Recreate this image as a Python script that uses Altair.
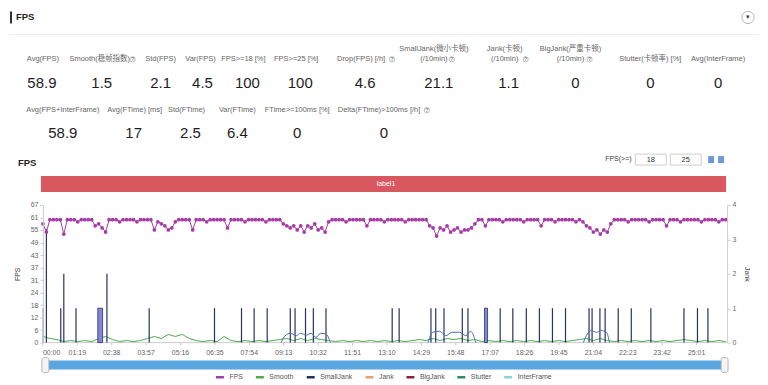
import json
import altair as alt
import pandas as pd

FONT = "Liberation Sans, Noto Sans CJK SC, sans-serif"

# ---------------- data ----------------
SERIES = ["FPS", "Smooth", "SmallJank", "Jank", "BigJank", "Stutter", "InterFrame"]
SERIES_COLORS = ["#a63ca6", "#4caa4c", "#263162", "#e9a46c", "#8c2343", "#2f8a72", "#86d6d6"]

STAT_LABELS_1 = ["Avg(FPS)", "Smooth(稳帧指数)", "Std(FPS)", "Var(FPS)", "FPS>=18 [%]", "FPS>=25 [%]",
                 "Drop(FPS) [/h]", "SmallJank(微小卡顿)", "Jank(卡顿)", "BigJank(严重卡顿)",
                 "Stutter(卡顿率) [%]", "Avg(InterFrame)"]
STAT_SUB_1 = ["", "", "", "", "", "", "", "(/10min)", "(/10min)", "(/10min)", "", ""]
STAT_VALUES_1 = ["58.9", "1.5", "2.1", "4.5", "100", "100", "4.6", "21.1", "1.1", "0", "0", "0"]
STAT_LABELS_2 = ["Avg(FPS+InterFrame)", "Avg(FTime) [ms]", "Std(FTime)", "Var(FTime)",
                 "FTime>=100ms [%]", "Delta(FTime)>100ms [/h]"]
STAT_VALUES_2 = ["58.9", "17", "2.5", "6.4", "0", "0"]

TIME_LABELS = ["00:00", "01:19", "02:38", "03:57", "05:16", "06:35", "07:54", "09:13", "10:32", "11:51",
               "13:10", "14:29", "15:48", "17:07", "18:26", "19:45", "21:04", "22:23", "23:42", "25:01"]
TIME_TICK_STEP = 79   # seconds
TIME_END = 1571       # seconds

FPS_TICK_LABELS = ["0", "6", "12", "18", "24", "31", "37", "43", "49", "55", "61", "67"]
FPS_MAX = 67.2
JANK_TICKS = [0, 1, 2, 3, 4]
JANK_MAX = 4

FPS_STEP = 8  # seconds between FPS samples
FPS = [58, 54, 60, 60, 60, 60, 53, 60, 60, 60, 59, 60, 60, 60, 60,
       57, 58, 56, 54,
       60, 60, 60, 59, 60, 60, 60, 60, 59, 60, 60, 60, 60,
       55, 59, 58, 57, 55, 56, 59, 60, 60, 60, 60, 55,
       60, 60, 60, 59, 60, 60, 60, 60, 60, 56,
       60, 60, 60, 60, 59, 60, 60, 60, 60, 60, 59, 60, 60, 60, 60,
       58, 57, 56, 57, 55, 57, 54, 57, 56, 58, 55, 56, 54,
       59, 60, 60, 60, 60, 59, 60, 60, 60, 60, 60, 57,
       60, 60, 60, 60, 59, 60, 60, 60, 60, 60, 59, 60, 60, 60, 60, 60, 60,
       57, 56, 52, 56, 55, 57, 54, 55, 56, 54, 55, 55, 56, 58,
       60, 60, 57,
       60, 60, 60, 60, 59, 60, 60, 60, 60, 60, 59, 60, 60, 60, 60, 57,
       60, 60, 60, 59, 60, 60, 60, 60, 60, 59, 60,
       59, 57, 56, 54, 55, 53, 55, 54,
       58, 60, 60, 60, 60, 59, 60, 60, 60, 60, 60, 59, 60, 60, 60, 60, 57,
       60, 60, 60, 59, 60, 60, 60, 60, 60, 59, 60, 60, 60, 60, 59, 60, 60]

SMOOTH_STEP = 16
SMOOTH = [3, 2, 1.5, 0.5, 1, 0.5, 1, 0.5, 2, 3, 1.5, 0.5, 1, 0.5, 1, 2, 3, 2, 4, 3,
          4, 2, 1, 0.5, 1, 0.5, 3, 1, 0.5, 1, 0.5, 1, 0.5, 1, 1.5, 2, 1, 2, 1, 2,
          1.5, 1, 0.5, 1, 0.5, 1, 0.5, 1, 0.5, 1, 0.5, 1, 0.5, 1, 1.5, 1, 2, 1, 2, 1.5,
          2, 1, 1.5, 0.5, 1, 0.5, 1, 0.5, 1, 0.5, 1, 0.5, 1, 0.5, 1, 0.5, 1, 1.5, 2, 1,
          2, 1, 0.5, 1, 0.5, 1, 0.5, 1, 0.5, 1, 0.5, 1, 1.5, 1, 0.5, 1, 0.5, 1, 0.5]

SMALLJANK_T = [1, 8, 41, 48, 76, 147, 244, 394, 456, 485, 515, 568, 579, 603, 621, 650,
               802, 818, 891, 902, 921, 963, 976, 1050, 1079, 1110, 1140, 1170, 1200,
               1254, 1261, 1279, 1291, 1321, 1351, 1396, 1472, 1503, 1527]
SMALLJANK_V = [1, 3.3, 1, 2, 1, 2, 1, 1, 1, 1, 1, 1, 1, 1, 1, 1,
               1, 1, 1, 1, 1, 1, 1, 1, 1, 1, 1, 1, 1,
               1, 1, 1, 1, 1, 1, 1, 1, 1, 1]
SMALLJANK_BLOCK_T0 = [126, 1014]
SMALLJANK_BLOCK_T1 = [137, 1021]
SMALLJANK_BLOCK_V = [1, 1]

ARC_GROUP = ["a"] * 11 + ["b"] * 9 + ["c"] * 7
ARC_T = [547, 556, 568, 582, 591, 605, 616, 627, 637, 650, 660,
         884, 895, 911, 925, 939, 957, 971, 982, 994,
         1241, 1250, 1259, 1271, 1282, 1294, 1301]
ARC_V = [0, 0.2, 0.27, 0.2, 0.27, 0.22, 0.27, 0.15, 0.27, 0.25, 0,
         0, 0.3, 0.33, 0.2, 0.3, 0.3, 0.2, 0.33, 0,
         0, 0.25, 0.35, 0.3, 0.35, 0.3, 0]

# ---------------- layout (pixels relative to plot origin) ----------------
PLOT_W, PLOT_H = 686, 138
L1_X = [0, 57, 118, 158, 201, 254, 319, 392, 463, 529, 609, 677]
V1_X = [-1, 59, 118, 160, 205, 258, 323, 397, 467, 534, 609, 677]
L2_X = [20, 92, 144, 195, 255, 337]
V2_X = [20, 91, 148, 195, 255, 342]
Y_L1, Y_L1_TOP, Y_V1, Y_L2, Y_V2 = -146, -156, -122, -95, -72
ICONS_X = [90, 350, 410, 484, 548, 385]
ICONS_Y = [-146, -146, -146, -146, -146, -95]


def px(f):
    return alt.X(f"{f}:Q", scale=None, axis=None)


def py(f):
    return alt.Y(f"{f}:Q", scale=None, axis=None)


def one(**kw):
    return pd.DataFrame({k: [v] for k, v in kw.items()})


def texts(xs, ys, ts):
    return pd.DataFrame({"x": xs, "y": ys, "text": ts})


# background sets the outer extent
bg = alt.Chart(one(x=-34, x2=718, y=-195, y2=164)).mark_rect(fill="white").encode(
    x=px("x"), x2="x2:Q", y=py("y"), y2="y2:Q")

sep = alt.Chart(one(x=-34, x2=718, y=-171)).mark_rule(color="#ececec", strokeWidth=1).encode(
    x=px("x"), x2="x2:Q", y=py("y"))

head_bar = alt.Chart(one(x=-33, x2=-31, y=-194, y2=-182)).mark_rect(fill="#333").encode(
    x=px("x"), x2="x2:Q", y=py("y"), y2="y2:Q")
head_txt = alt.Chart(texts([-27], [-188], ["FPS"])).mark_text(
    align="left", baseline="middle", fontSize=9.5, fontWeight="bold", color="#222").encode(
    x=px("x"), y=py("y"), text="text:N")
drop_circle = alt.Chart(one(x=707, y=-188)).mark_point(
    shape="circle", size=150, filled=True, fill="white", stroke="#9a9a9a", strokeWidth=1).encode(
    x=px("x"), y=py("y"))
drop_arrow = alt.Chart(texts([707], [-188], ["▾"])).mark_text(fontSize=7, color="#444").encode(
    x=px("x"), y=py("y"), text="text:N")

lab1_y = [Y_L1_TOP if s else Y_L1 for s in STAT_SUB_1]
lab1 = alt.Chart(texts(L1_X, lab1_y, STAT_LABELS_1)).mark_text(
    fontSize=7.5, color="#666", baseline="middle").encode(x=px("x"), y=py("y"), text="text:N")
sub_x = [x for x, s in zip(L1_X, STAT_SUB_1) if s]
sub_t = [s for s in STAT_SUB_1 if s]
sub1 = alt.Chart(texts(sub_x, [Y_L1] * len(sub_x), sub_t)).mark_text(
    fontSize=7.5, color="#666", baseline="middle").encode(x=px("x"), y=py("y"), text="text:N")
val1 = alt.Chart(texts(V1_X, [Y_V1] * len(V1_X), STAT_VALUES_1)).mark_text(
    fontSize=15, color="#1e1e1e", baseline="middle").encode(x=px("x"), y=py("y"), text="text:N")
lab2 = alt.Chart(texts(L2_X, [Y_L2] * len(L2_X), STAT_LABELS_2)).mark_text(
    fontSize=7.5, color="#666", baseline="middle").encode(x=px("x"), y=py("y"), text="text:N")
val2 = alt.Chart(texts(V2_X, [Y_V2] * len(V2_X), STAT_VALUES_2)).mark_text(
    fontSize=15, color="#1e1e1e", baseline="middle").encode(x=px("x"), y=py("y"), text="text:N")
icon_c = alt.Chart(pd.DataFrame({"x": ICONS_X, "y": ICONS_Y})).mark_point(
    shape="circle", size=28, stroke="#888", strokeWidth=0.8, filled=False).encode(x=px("x"), y=py("y"))
icon_t = alt.Chart(texts(ICONS_X, ICONS_Y, ["?"] * len(ICONS_X))).mark_text(
    fontSize=5, color="#777", fontWeight="bold").encode(x=px("x"), y=py("y"), text="text:N")

sec_title = alt.Chart(texts([-25], [-42], ["FPS"])).mark_text(
    align="left", baseline="middle", fontSize=9.5, fontWeight="bold", color="#222").encode(
    x=px("x"), y=py("y"), text="text:N")
fps_ge = alt.Chart(texts([577], [-46], ["FPS(>=)"])).mark_text(
    fontSize=7, color="#444", baseline="middle").encode(x=px("x"), y=py("y"), text="text:N")
boxes = alt.Chart(pd.DataFrame({"x": [594, 629], "x2": [625, 660], "y": [-51, -51], "y2": [-40, -40]})).mark_rect(
    fill="white", stroke="#cfcfcf", strokeWidth=1).encode(x=px("x"), x2="x2:Q", y=py("y"), y2="y2:Q")
box_t = alt.Chart(texts([609.5, 644.5], [-45.5, -45.5], ["18", "25"])).mark_text(
    fontSize=7.5, color="#333", baseline="middle").encode(x=px("x"), y=py("y"), text="text:N")
icons2 = alt.Chart(pd.DataFrame({"x": [667, 677], "x2": [673, 683], "y": [-49, -49], "y2": [-42, -42]})).mark_rect(
    fill="#6f97d8").encode(x=px("x"), x2="x2:Q", y=py("y"), y2="y2:Q")

red_bar = alt.Chart(one(x=-2, x2=685, y=-29, y2=-13)).mark_rect(fill="#d9575f").encode(
    x=px("x"), x2="x2:Q", y=py("y"), y2="y2:Q")
red_txt = alt.Chart(texts([344], [-21], ["label1"])).mark_text(
    fontSize=7, color="white", baseline="middle").encode(x=px("x"), y=py("y"), text="text:N")

slider = alt.Chart(one(x=0, x2=PLOT_W, y=156, y2=165)).mark_rect(fill="#5aa6e0").encode(
    x=px("x"), x2="x2:Q", y=py("y"), y2="y2:Q")
handles = alt.Chart(pd.DataFrame({"x": [-1, PLOT_W - 6], "x2": [6, PLOT_W + 1], "y": [153, 153], "y2": [168, 168]})).mark_rect(
    fill="#f4f4f4", stroke="#a8a8a8", strokeWidth=0.8, cornerRadius=2).encode(
    x=px("x"), x2="x2:Q", y=py("y"), y2="y2:Q")

# ---------------- chart layers ----------------
color_scale = alt.Scale(domain=SERIES, range=SERIES_COLORS)
legend_def = alt.Legend(orient="none", legendX=172, legendY=167, direction="horizontal", title=None,
                        symbolType="stroke", symbolStrokeWidth=2.5, symbolSize=64, labelFontSize=7,
                        labelColor="#555", labelFont=FONT, columnPadding=7, labelOffset=4)

x_scale = alt.Scale(domain=[0, TIME_END], nice=False, zero=False)
fps_expr = f"{json.dumps(FPS_TICK_LABELS)}[round(datum.value * 11 / {FPS_MAX})]"

fps_df = pd.DataFrame({"t": [i * FPS_STEP for i in range(len(FPS))], "v": FPS, "s": "FPS"})
smooth_df = pd.DataFrame({"t": [i * SMOOTH_STEP for i in range(len(SMOOTH))], "v": SMOOTH, "s": "Smooth"})
sj_df = pd.DataFrame({"t": SMALLJANK_T, "v": SMALLJANK_V, "s": "SmallJank"})
blk_df = pd.DataFrame({"t0": SMALLJANK_BLOCK_T0, "t1": SMALLJANK_BLOCK_T1, "v": SMALLJANK_BLOCK_V})
arc_df = pd.DataFrame({"g": ARC_GROUP, "t": ARC_T, "v": ARC_V})
tick_df = pd.DataFrame({"t": [i * TIME_TICK_STEP for i in range(len(TIME_LABELS))], "label": TIME_LABELS})

fps_y = alt.Scale(domain=[0, FPS_MAX], nice=False, zero=True)
jank_y = alt.Scale(domain=[0, JANK_MAX], nice=False, zero=True)
tx = alt.X("t:Q", scale=x_scale, axis=None)

# x axis drawn from the tick table through the time scale
x_domain = alt.Chart(one(a=0)).mark_rule(color="#cccccc", strokeWidth=1).encode(
    x=alt.value(0), x2=alt.value(PLOT_W), y=alt.value(PLOT_H))
x_ticks = alt.Chart(tick_df).mark_rule(color="#cccccc", strokeWidth=1).encode(
    x=tx, y=alt.value(PLOT_H), y2=alt.value(PLOT_H + 3))
x_lab_first = alt.Chart(tick_df.iloc[:1]).mark_text(
    align="left", baseline="middle", fontSize=7, color="#666").encode(
    x=tx, y=alt.value(PLOT_H + 10), text="label:N")
x_lab_rest = alt.Chart(tick_df.iloc[1:]).mark_text(
    align="center", baseline="middle", fontSize=7, color="#666").encode(
    x=tx, y=alt.value(PLOT_H + 10), text="label:N")

smooth_layer = alt.Chart(smooth_df).mark_line(strokeWidth=1).encode(
    x=tx,
    y=alt.Y("v:Q", scale=fps_y, axis=None),
    color=alt.Color("s:N", scale=color_scale, legend=legend_def))

sj_layer = alt.Chart(sj_df).mark_rule(strokeWidth=1.2).encode(
    x=tx,
    y=alt.Y("v:Q", scale=jank_y,
            axis=alt.Axis(orient="right", values=JANK_TICKS, title="Jank", titleFontSize=7,
                          titleFontWeight="normal", titleColor="#444", labelFontSize=7, labelColor="#666",
                          grid=False, tickSize=3, tickColor="#cccccc", domainColor="#cccccc",
                          labelPadding=2, titlePadding=8, zindex=1)),
    y2=alt.datum(0),
    color=alt.Color("s:N", scale=color_scale, legend=legend_def))

blk_layer = alt.Chart(blk_df).mark_rect(fill="#8087d6", stroke="#2a3570", strokeWidth=0.8).encode(
    x=alt.X("t0:Q", scale=x_scale, axis=None), x2="t1:Q",
    y=alt.Y("v:Q", scale=jank_y, axis=None), y2=alt.datum(0))

arc_layer = alt.Chart(arc_df).mark_line(strokeWidth=1, interpolate="monotone", color="#4a69b5").encode(
    x=tx,
    y=alt.Y("v:Q", scale=jank_y, axis=None),
    detail="g:N")

fps_layer = alt.Chart(fps_df).mark_line(strokeWidth=1, point=alt.OverlayMarkDef(size=14, filled=True)).encode(
    x=tx,
    y=alt.Y("v:Q", scale=fps_y,
            axis=alt.Axis(orient="left", values=[i * FPS_MAX / 11 for i in range(12)], labelExpr=fps_expr,
                          title="FPS", titleFontSize=7, titleFontWeight="normal", titleColor="#444",
                          labelFontSize=7, labelColor="#666", grid=False, tickSize=3, tickColor="#cccccc",
                          domainColor="#cccccc", labelPadding=2, titlePadding=10, zindex=1)),
    color=alt.Color("s:N", scale=color_scale, legend=legend_def))

chart = alt.layer(
    bg, sep, head_bar, head_txt, drop_circle, drop_arrow,
    lab1, sub1, val1, lab2, val2, icon_c, icon_t,
    sec_title, fps_ge, boxes, box_t, icons2, red_bar, red_txt,
    slider, handles,
    x_domain, x_ticks, x_lab_first, x_lab_rest,
    smooth_layer, blk_layer, sj_layer, arc_layer, fps_layer,
).resolve_scale(y="independent").properties(
    width=PLOT_W, height=PLOT_H, padding=0, autosize=alt.AutoSizeParams(type="pad")
).configure(font=FONT).configure_view(stroke=None)

chart.save("out.html", embed_options={"renderer": "svg", "actions": False})
